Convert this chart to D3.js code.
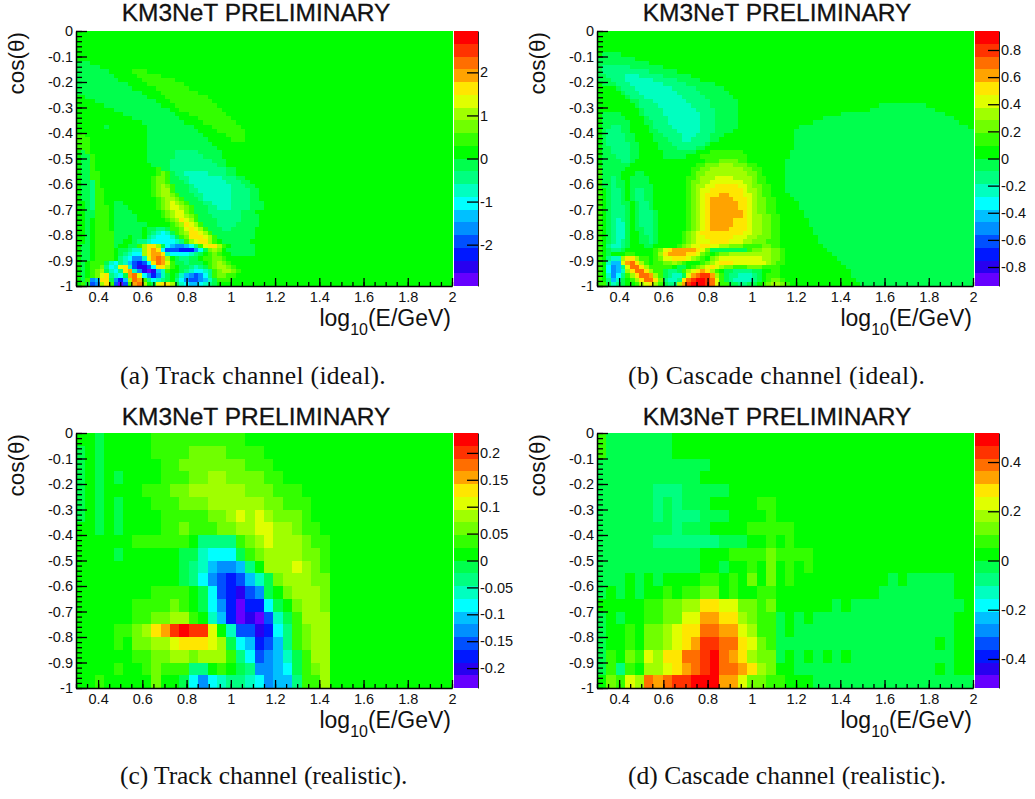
<!DOCTYPE html>
<html>
<head>
<meta charset="utf-8">
<script src="https://cdn.jsdelivr.net/npm/d3@7"></script>
<style>
	html, body { margin: 0; padding: 0; background: #fff; }
	text { font-family: "Liberation Sans", Arial, sans-serif; fill: #111; }
	.caption { font-family: "Liberation Serif", "Times New Roman", serif; }
</style>
</head>
<body>
<div id="chart"></div>
<script>
// colour bands, lowest to highest (20 contour levels)
const palette = ["#6600ff", "#2800f0", "#0018ff", "#0050ff", "#0090ff", "#00c0ff", "#00ffff", "#00ffc0", "#00ff80", "#00ff4d",
	"#00ff00", "#33ff00", "#70ff00", "#a0ff00", "#e0ff00", "#ffe600", "#ffa300", "#ff6e00", "#ff3300", "#ff0000"];

const xTicks = [0.4, 0.6, 0.8, 1, 1.2, 1.4, 1.6, 1.8, 2];
const yTicks = [0, -0.1, -0.2, -0.3, -0.4, -0.5, -0.6, -0.7, -0.8, -0.9, -1];

const trackIdealTicks = [2, 1, 0, -1, -2];
const cascadeIdealTicks = [0.8, 0.6, 0.4, 0.2, 0, -0.2, -0.4, -0.6, -0.8];
const trackRealTicks = [0.2, 0.15, 0.1, 0.05, 0, -0.05, -0.1, -0.15, -0.2];
const cascadeRealTicks = [0.4, 0.2, 0, -0.2, -0.4];

// Rows go from cos=0 down to cos=-1. Missing cells at the end of a row are in the zero band.
const trackIdealRows = [
	"", "", "", "", "", "", "",
	"aaa",
	"aaaaa",
	"aaaaaaa 00000 111",
	"aaaaaaaa 00000 11111",
	"aaaaaaaaa 00000 1111111",
	"aaaaaaaaaaa 0000 11111111",
	"aaaaaaaaaaaa 00000 1111111",
	"aaaaaaaaaaaaaa 0000 11111111",
	"00 aaaaaaaaaaaaa 0000 111111111",
	"0000 aaaaaaaaaaaaa 000 111111111",
	"000000 aaaaaaaaaaaa 000 111111111",
	"00000000 aaaaaaaaaaaa 00 111111111",
	"0000000000 aaaaaaaaaaa 000 11111111",
	"000000000000 aaaaaaaaaa 0000 1111111",
	"00000000000000 aaaaaaaaa 0000 1111111",
	"000000a00000000 aaaaaaaaaa 0000 111111",
	"000000000000000 aaaaaaaaaaa 0000 111111",
	"110000000000000 aaaaaaaaaaaa 00000 1111",
	"111000000000000 aaaaaaaaaaaaa 00000 111",
	"111000000000000 aaaaaaaaaaaaaa",
	"111000000000000 aaaaaaaaaaaaaaa",
	"0a1000000000000 aaaaaa bbbbb aaaaa",
	"0aa100000000000 aaaaaa bbbbbb aaaa",
	"0aa100000000000 aaaaa bbbbbbbbb aaa",
	"0aa1000000000000 aaaa bbbbbbbbbb aa",
	"0aa100000000000001 aa bbbbbbbbbbbb aa",
	"0aa1100000 0000000121 abbcccccbb bbaa",
	"0aa1100000 0000001221 aabbcccccc cbbbaa",
	"0aab100000 0000001221 aaabcccccc ccbbbaa",
	"0aab100000 0000001232 1aaabccccc cccbbbaa",
	"0aab110000 0000001233 1aaabbcccc cccbbbbaa",
	"0aab110000 0000001233 21aaabbccc cccbbbbaa",
	"0aab110000 0000000123 321aaabccc cccbbbbaa",
	"00ab1100aa 0000000123 4321aaabbc cccbbbbaaa",
	"00ab1110aa a000000123 44321aaabb cccbbbbaaa",
	"00aa1110aa aa00000012 34421aaabb bbbbbaaa",
	"00aa1110aa aaa0000012 344321aaab bbbbbaaaa",
	"00a01110aa aaa0000001 235431aaaa bbbbbaaaa",
	"00a01110aa aaaaa00000 1235431aaa bbbbaaaaa",
	"00a01110aa aaaa0aabba 11245431aa abbaaaaa",
	"00a01111aa aaaa0abcdc a12355431a aaaaaaaa",
	"00a01111aa a0aa0bcddd ca12555431 aaaaaaaa",
	"00a01111aa 00abbcdddd dcb1345531 0aaaaaa",
	"0aa01111a0 0aa13553ad effedb1455 310aaaaa",
	"0aa011110a abcc3565dg gghhhfda23 20aaaaaa",
	"0aa011110a bcdd35665c ddddcba012 100aaaaa",
	"0aa011110b cdffc46763 0abbaa0112 210",
	"0a0111acdb ceghgd5764 1aabaaa012 321",
	"0a0112bdc4 5cgiigd553 10aabcba12 33210",
	"0a0123acdb 56cfijiec1 00abcddcb1 233210",
	"0a01245bcd a674dfhfca 0acefgfdb1 22110",
	"0a1fe55afh e3761bdcba 0bdfggfeca 1110",
	"01agf351gj g16730a455 3acdeedcba 0000"
];

const cascadeIdealRows = [
	"", "", "", "", "",
	"0aaaa",
	"aaaaaaaa",
	"aaaaaaaaaaa",
	"a bbbbbb aaaaaaa",
	"a bbbbbbbbbb aaaaaa",
	"aa bbbb ccc bbbbb aaaaaa",
	"aaa bbb cccccc bbbbb aaaaa",
	"0aaa bbb ccccccc bbbbb aaaaaa",
	"0000a bbb cccccccc bbbbb aaaaaa",
	"00000a bbb cccccccc bbbbb aaaaaa",
	"000000a bbb cccccccc bbbbb aaaaaa",
	"0000000aa bbb ccccccc bbbbb aaaaaa",
	"00000000a bbbb ccccccc bbbb aaaaaa",
	"000000000a bbbb ccccccc bbbb aaaaa",
	"0aaaa0000a bbbb cccccccc bbb aaaaa",
	"0aaaaa0000a bbbb ccccccc bbb aaaaa",
	"0aaaaaa000aa bbb ccccccc bbb aaaaa",
	"0aabbaa0000a bbbb cccccc bbb aaaaa",
	"0abbbaa0000aa bbbb ccccc bbb aaaa",
	"0abbbbaa0000aa bbbb ccc bbb aaa",
	"0abbbbaa0000aaa bbb cc bbbb aa",
	"0abbbbbaa0000aaa bbbbbbb a",
	"0aabbbbaa0000aaaa bbbb aa",
	"0aabbbbaa0 0000 aaaaaaa 000 1111111",
	"0aaabbbaa0 0000 aaaaa 000 1111111111",
	"0aaaabba0000000000 00000 111 2222 11",
	"0aaaaaa00000000000 000 11 222 333 222 11",
	"1aaaaa000000000000 00 11 22 3333333 22 11",
	"1aaaa000aa00000000 00 1 22 333333333 22 1",
	"1aaba00aaaa0000000 0 11 2 333 4444 3333 2 11",
	"1aabaa0aaaa0000000 0 1 22 33 4444444 33 2 11",
	"1aabaa0aaaaa000000 0 1 2 33 44 55555 44 3 22 11",
	"10abba0abbaa000000 0 1 2 3 44 5555555 4 33 2 11",
	"10abba0abbaa000000 0 1 2 3 4 555 66 555 44 3 2 11",
	"10abba0abbaa000000 0 1 2 3 4 5 66666 555 4 3 22 11",
	"10abbaa0abba000000 0 1 2 3 4 5 666666 55 4 3 22 11",
	"10abbba0abba000000 0 1 2 3 4 5 666666 55 4 3 22 11",
	"10abbba0abbba00000 0 1 2 3 4 5 6666666 5 4 3 22 11",
	"10abbba0abbba00000 0 1 2 3 4 5 6666666 5 4 33 22 11",
	"10abcba0abbba00000 0 1 2 3 4 5 66666 555 4 33 22 11",
	"10abcca0abbba00000 0 1 2 3 4 5 66666 555 4 33 22 11",
	"10abcca0aabba00000 0 1 2 3 4 5 6666 5555 4 33 22 11",
	"10abcca00abba00000 1 2 3 4 555555555 44 33 22 11",
	"10abcca00aaba00000 1 2 3 44 555555 444 33 222 11",
	"10abcba00aaba00000 1 2 3 444 5555 444 33 222 111",
	"10bccba000aa000001 2344 554 4332 2211 112211",
	"10abba0000 0012456666 6542aaaaaa aa12233221 0",
	"10a0001100 0013566665 5421012233 3333333221",
	"10bcc35531 1012445554 3210234444 4444433221",
	"10cee46753 1011223210 0012345554 4444443211",
	"10dfeb4775 3111110aa0 1234543221 1122211110",
	"10dfec3577 5311abba13 4565310aab bbbaa00110",
	"10cfdb1357 7631abcca4 6788631abb cccba01110",
	"10beca0135 7752bccb57 8998741abc cccba01221",
	"11acba0013 4531abb368 9998741 1aa bbaa012332 1"
];

// right-hand pale region of the cascade map: first and last+1 column per row
const cascadeIdealPatchStart = [80, 80, 80, 80, 80, 80, 80, 80, 80, 80, 80, 80, 80, 80, 80, 80, 80,
	60, 58, 52, 48, 46, 43, 42, 42, 42, 42, 42, 41, 41, 40, 40, 40, 40, 40, 40, 40, 40,
	41, 42, 43, 43, 44, 44, 45, 45, 46, 46, 47, 47, 48, 49, 50, 51, 52, 53, 54, 54, 55, 56];
const cascadeIdealPatchEnd = [80, 80, 80, 80, 80, 80, 80, 80, 80, 80, 80, 80, 80, 80, 80, 80, 80,
	70, 72, 74, 76, 77, 79, 80, 80, 80, 80, 80, 80, 80, 80, 80, 80, 80, 80, 80, 80, 80,
	80, 80, 80, 80, 80, 80, 80, 80, 80, 80, 80, 80, 80, 80, 80, 80, 80, 80, 80, 80, 80, 80];

const trackRealRows = [
	"00a00000 1111111111",
	"a0a00000 1111 2222 1111",
	"a0a000000 11 2222222 111",
	"a0a0a0000 111 22 33 2222 11",
	"a0a0000 111 22 333333 222 111",
	"a0a0a000 111 222 33333 3 22 111",
	"a0a0a0000 11111 22 3 4 3 4 3 222 1",
	"00a0a0000 11 2 111 22 33 44 33 2 11",
	"000000 111111 0 bbbb 1 2 3 4 333 2 11",
	"0000a000000 aa c ddd a 1 2 3333 22 1",
	"00000000000 abc effe b 0 333 4 3 2 1",
	"00000000000 abd fghge c a 2 333 22",
	"00000000 1111 0 a dghigf a0 2 333 2",
	"000000 1111 2 1 0 a dfhjhh da0 2 33 2",
	"000000 11 22 33 1 0 cehjij gca1 333",
	"0000 11 2 3 5 6 8 9 88 4 0 c gg i h db 1 2 33",
	"0000 1 0 22 33 4 555 4 3 a d e h g e b 1 2 33",
	"000000 11 22 33 2 333 1 b d g f e c a 1 33",
	"0000 1 00 1 2 111 bb 0 1 0 a b f f e d a 1 2 3",
	"00100000 2 00 a dfdcbbcd f ee b 11 3"
];

const cascadeRealRows = [
	"1aaaaaaa",
	"1aaaaaaa",
	"aaaaaaaaaaaa",
	"aaaaaaaaaaa",
	"aaaaaa bbb aaaaa",
	"aaaaaa b a b aaa 00000 11",
	"aaaaaa b a bbb aaa 0000 1",
	"aaaaaaaa b aaa 0000 11111",
	"aaaaaa bbbbbbb aaa 00 1 0 1",
	"aaaaaaaaaaa 000 1111 2 1 111",
	"aaaaaaaaaaa 00 a 00 1 0 2 0 1 0 1",
	"aaa0a0a0000 11 0 1 0 2 0 2 0 1 0000000000 a 0 aaaaa",
	"a0a0a00 1 0 11 22 0 1 00 11 00000000000 aaaaaaaa",
	"00000 11 22 33 55 44 22 1 2 000000 a 0 aaaaaaaaaaaa",
	"a0a00 11 22 44 66 55 3 2 11 a 0 a 0 aaaaaaaaaaaaaaa",
	"a00 1 0 22 3 4 55 77 66 4 3 11 a 0 aaaaaaaaaaaaaaaaa",
	"a00 1 0 22 3 4 5 6 88 77 5 4 2 1 aaaaaaaaaaaaaaaaa 0 a",
	"a 1 0 2 1 4 3 55 77 8 9 7 6 5 3 22 a0a0a0a0 aaaaaaaaaaa",
	"a1b10 33 4 5 6 7 8 9 77 6 5 3 2 00 aaaaaaaaaaaaaaa 0 a",
	"0 2 1 4 3 7 6 7 88 999 66 4 22 11 000 aaaaaaaaaaaaaaaaa"
];

const plotW = 376, plotH = 255;
const panels = [
	{rows: trackIdealRows, nx: 80, ny: 60, zMax: 2.96, ticks: trackIdealTicks, left: 76, top: 31, titleY: -10,
		caption: "(a) Track channel (ideal).", capX: 120, capY: 384, capSpace: 0.32,
		patchStart: null, patchEnd: null},
	{rows: cascadeIdealRows, nx: 80, ny: 60, zMax: 0.94, ticks: cascadeIdealTicks, left: 597, top: 31, titleY: -10,
		caption: "(b) Cascade channel (ideal).", capX: 628, capY: 384, capSpace: 0.4,
		patchStart: cascadeIdealPatchStart, patchEnd: cascadeIdealPatchEnd},
	{rows: trackRealRows, nx: 40, ny: 20, zMax: 0.237, ticks: trackRealTicks, left: 76, top: 433, titleY: -8,
		caption: "(c) Track channel (realistic).", capX: 120, capY: 784, capSpace: -0.05,
		patchStart: null, patchEnd: null},
	{rows: cascadeRealRows, nx: 40, ny: 20, zMax: 0.518, ticks: cascadeRealTicks, left: 597, top: 433, titleY: -8,
		caption: "(d) Cascade channel (realistic).", capX: 628, capY: 784, capSpace: 0.03,
		patchStart: null, patchEnd: null}
];

const svg = d3.select("#chart")
	.append("svg")
		.attr("width", 1035)
		.attr("height", 799)
		.style("display", "block");

// turn one band code into a value in the middle of that band
function bandValue(code, zMax) {
	const step = zMax / 10;
	const up = "0123456789".indexOf(code);
	if (up >= 0) return (up + 0.5) * step;
	return -("abcdefghij".indexOf(code) + 0.5) * step;
}

function drawPanel(p) {
	const g = svg.append("g").attr("transform", `translate(${p.left},${p.top})`);

	const x = d3.scaleLinear().domain([0.3, 2]).range([0, plotW]);
	const y = d3.scaleLinear().domain([0, -1]).range([0, plotH]);
	const color = d3.scaleQuantize().domain([-p.zMax, p.zMax]).range(palette);

	const xEdges = d3.range(p.nx + 1).map(i => 0.3 + i * 1.7 / p.nx);
	const yEdges = d3.range(p.ny + 1).map(j => -j / p.ny);

	const cells = [];
	p.rows.forEach((row, j) => {
		let s = row.replace(/ /g, "");
		if (p.patchStart) s = s.padEnd(p.patchStart[j], "0").padEnd(p.patchEnd[j], "a");
		s = s.padEnd(p.nx, "0");
		d3.range(p.nx).forEach(i => cells.push({i: i, j: j, v: bandValue(s[i], p.zMax)}));
	});

	g.append("g")
		.attr("shape-rendering", "crispEdges")
		.selectAll("rect")
		.data(cells)
		.join("rect")
			.attr("x", d => x(xEdges[d.i]))
			.attr("y", d => y(yEdges[d.j]))
			.attr("width", d => x(xEdges[d.i + 1]) - x(xEdges[d.i]) + 0.6)
			.attr("height", d => y(yEdges[d.j + 1]) - y(yEdges[d.j]) + 0.6)
			.attr("fill", d => color(d.v));

	// Left axis, major and minor ticks both point inward
	const yMinor = d3.range(51).map(k => -k * 0.02);
	g.append("g")
		.attr("class", "tick-minor")
		.call(d3.axisLeft(y).tickValues(yMinor).tickSize(-6).tickFormat(""))
		.call(a => a.select(".domain").remove());
	g.append("g")
		.call(d3.axisLeft(y).tickValues(yTicks).tickSizeInner(-11).tickSizeOuter(0).tickPadding(3).tickFormat(d => String(d)))
		.call(styleAxis);

	// Bottom axis
	const xMinor = d3.range(35).map(k => 0.3 + k * 0.05);
	g.append("g")
		.attr("transform", `translate(0,${plotH})`)
		.call(d3.axisBottom(x).tickValues(xMinor).tickSize(-4).tickFormat(""))
		.call(a => a.select(".domain").remove());
	g.append("g")
		.attr("transform", `translate(0,${plotH})`)
		.call(d3.axisBottom(x).tickValues(xTicks).tickSizeInner(-8).tickSizeOuter(0).tickPadding(6).tickFormat(d => String(d)))
		.call(styleAxis);

	g.selectAll(".tick line").attr("stroke", "#000").attr("stroke-width", 1.3);

	// Colour bar
	const bar = g.append("g").attr("transform", `translate(${plotW + 2},0)`);
	const barY = d3.scaleLinear().domain([-p.zMax, p.zMax]).range([plotH, 0]);
	const bandEdges = d3.range(21).map(k => -p.zMax + k * p.zMax / 10);
	bar.append("g")
		.attr("shape-rendering", "crispEdges")
		.selectAll("rect")
		.data(palette)
		.join("rect")
			.attr("x", 0)
			.attr("width", 24)
			.attr("y", (d, k) => barY(bandEdges[k + 1]))
			.attr("height", (d, k) => barY(bandEdges[k]) - barY(bandEdges[k + 1]))
			.attr("fill", d => d);
	bar.append("g")
		.attr("transform", "translate(24,0)")
		.call(d3.axisRight(barY).tickValues(p.ticks).tickSizeInner(-11).tickSizeOuter(0).tickPadding(2).tickFormat(d => String(d)))
		.call(styleAxis)
		.call(a => a.select(".domain").attr("stroke-width", 1).attr("stroke", "#222"))
		.call(a => a.selectAll(".tick line").attr("stroke", "#000").attr("stroke-width", 1.3));

	// Titles
	g.append("text")
		.attr("x", plotW / 2 - 8)
		.attr("y", p.titleY)
		.attr("text-anchor", "middle")
		.attr("font-size", 24.5)
		.attr("stroke", "#111")
		.attr("stroke-width", 0.3)
		.text("KM3NeT PRELIMINARY");
	g.append("text")
		.attr("transform", "translate(-52,1) rotate(-90)")
		.attr("text-anchor", "end")
		.attr("font-size", 22.5)
		.text("cos(θ)");
	const xTitle = g.append("text")
		.attr("x", plotW - 1)
		.attr("y", plotH + 40)
		.attr("text-anchor", "end")
		.attr("font-size", 23);
	xTitle.append("tspan").text("log");
	xTitle.append("tspan").attr("font-size", 16).attr("dy", 9).text("10");
	xTitle.append("tspan").attr("dy", -9).text("(E/GeV)");

	svg.append("text")
		.attr("class", "caption")
		.attr("x", p.capX)
		.attr("y", p.capY)
		.attr("font-size", 25.5)
		.attr("letter-spacing", p.capSpace)
		.text(p.caption);
}

function styleAxis(a) {
	a.selectAll("text").attr("font-size", 14.5).attr("fill", "#111");
	a.select(".domain").attr("stroke", "#000").attr("stroke-width", 1.5);
}

panels.forEach(drawPanel);
</script>
</body>
</html>
